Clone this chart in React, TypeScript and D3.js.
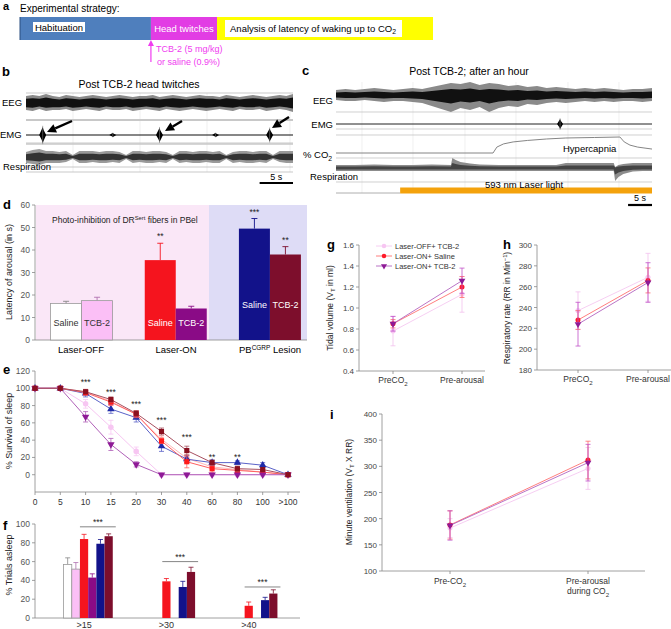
import React from 'react';
import * as d3 from 'd3';

const FONT = "'Liberation Sans', Arial, Helvetica, sans-serif";

// ---------- Panel a ----------
const aPhases = ['Habituation', 'Head twitches', 'Analysis'];
const aPhaseSpan = [31.7, 16.0, 52.3]; // % of protocol

// ---------- Panel b traces (0-40 s, 1 s steps) ----------
const bTime = [0,1,2,3,4,5,6,7,8,9,10,11,12,13,14,15,16,17,18,19,20,21,22,23,24,25,26,27,28,29,30,31,32,33,34,35,36,37,38,39,40];
const eegBHi = [7,8,7,9,7,6,8,7,6,7,8,7,6,7,8,7,6,7,7,8,6,7,8,7,6,7,8,7,7,6,8,7,6,7,8,7,6,7,8,7,9];
const eegBLo = [-7,-8,-6,-8,-7,-7,-6,-8,-7,-6,-7,-8,-6,-7,-7,-6,-8,-7,-6,-7,-8,-6,-7,-8,-7,-6,-7,-8,-7,-6,-7,-8,-6,-7,-7,-6,-8,-7,-6,-7,-9];
const respBHi = [5,7,8,6,6,5,6,2,6,6,6,5,6,6,5,2,6,6,5,6,6,5,2,6,6,5,6,6,5,6,2,5,6,6,5,6,6,2,6,6,6];
const respBLo = [-6,-7,-8,-6,-6,-6,-5,-2,-6,-6,-5,-6,-6,-5,-6,-2,-6,-5,-6,-6,-5,-6,-2,-6,-5,-6,-6,-5,-6,-6,-2,-6,-5,-6,-6,-5,-6,-2,-5,-6,-6];
const emgBBurstT = [2.5, 13, 20, 28.4, 36.5];
const emgBBurstAmp = [8, 2, 7, 2, 6.5];

// ---------- Panel c traces (0-66 s) ----------
const cTime = [0,2,4,6,8,10,12,14,16,18,20,22,24,26,28,30,32,34,36,38,40,42,44,46,48,50,52,54,56,58,60,62,64,66];
const eegCHi = [5,6,5,6,7,6,5,6,7,6,8,10,12,11,13,10,12,11,9,10,8,9,7,8,7,6,7,6,7,6,5,6,6,7];
const eegCLo = [-5,-6,-6,-5,-6,-7,-6,-6,-7,-8,-11,-14,-17,-13,-15,-12,-17,-13,-11,-12,-9,-10,-8,-7,-8,-7,-6,-7,-6,-7,-6,-6,-7,-6];
const emgCBurstT = [46.8];
const emgCBurstAmp = [5];
const co2T = [0, 32.8, 33.6, 35, 37, 40, 44, 48, 54, 59.3, 60.2, 61.4, 63, 66];
const co2V = [0, 0, 2.4, 3.7, 4.5, 5.1, 5.7, 6.1, 6.3, 6.5, 4.5, 3.2, 2.4, 1.6];
const respCT = [0, 4, 8, 12, 16, 20, 24, 24.3, 25, 26, 28, 30, 34, 38, 42, 46, 47, 48, 52, 56, 58, 58.3, 59, 60, 62, 64, 66];
const respCHi = [-3,-3,-3.5,-3,-3,-3.5,-3,-10,-8,-6,-4.5,-3.5,-3,-3,-3,-3,-4,-5,-5,-5,-5,-1,-3,-4,-5,-5,-5];
const respCLo = [3,3,3,3,3,3,3,3,3,3,3,3,3,3,3,3,3,3,3,3,3,13,9,6,3.5,3,3];
const laserStart = 13.4; // s

// ---------- Panel d ----------
const dGroups = ['Laser-OFF', 'Laser-ON', 'PB Lesion'];
const dSeries = ['Saline', 'TCB-2'];
const dMeans = [[16.2, 17.5], [35.5, 14.0], [49.5, 38.0]];
const dErr = [[1.0, 1.5], [7.5, 1.0], [4.5, 3.5]];
const dStars = [['', ''], ['**', ''], ['***', '**']];
const dYTicks = [0, 10, 20, 30, 40, 50, 60];

// ---------- Panel e ----------
const eCats = ['0', '5', '10', '15', '20', '30', '40', '60', '80', '100', '>100'];
const eOffSal = [100, 100, 96, 85, 70, 41, 19, 9, 6, 3, 0];
const eOffSalErr = [0, 0, 3, 4, 4, 4, 5, 3, 2, 2, 0];
const eOffTcb = [100, 100, 82, 55, 27, 0, 0, 0, 0, 0, 0];
const eOffTcbErr = [0, 0, 5, 8, 5, 0, 0, 0, 0, 0, 0];
const eOnSal = [100, 100, 95, 84, 70, 39, 15, 7, 5, 3, 0];
const eOnSalErr = [0, 0, 3, 4, 4, 3, 7, 4, 3, 2, 0];
const eOnTcb = [100, 100, 67, 35, 12, 0, 0, 0, 0, 0, 0];
const eOnTcbErr = [0, 0, 6, 7, 3, 0, 0, 0, 0, 0, 0];
const eLesSal = [100, 100, 94, 76, 66, 33, 18, 14, 14, 11, 0];
const eLesSalErr = [0, 0, 4, 5, 5, 6, 4, 3, 2, 3, 0];
const eLesTcb = [100, 100, 96, 87, 71, 50, 28, 14, 7, 6, 0];
const eLesTcbErr = [0, 0, 2, 3, 3, 4, 5, 3, 3, 2, 0];
const eStars = ['', '', '***', '***', '***', '***', '***', '**', '**', '', ''];
const eStarLevel = [0, 0, 107, 96, 82, 63, 44, 20, 20, 0, 0];
const eYTicks = [0, 20, 40, 60, 80, 100, 120];

// ---------- Panel f ----------
const fCats = ['>15', '>30', '>40'];
const fSeries = ['OFF-Saline', 'OFF-TCB', 'ON-Saline', 'ON-TCB', 'Les-Saline', 'Les-TCB'];
const fVals = [[57, 52, 84, 43, 79, 87], [0, 0, 39, 0, 33, 49], [0, 0, 13, 0, 19, 26]];
const fErr = [[7, 7, 5, 4, 4.5, 2.5], [0, 0, 3, 0, 6, 5], [0, 0, 4, 0, 3, 4]];
const fSigLevel = [97, 60, 33];
const fYTicks = [0, 20, 40, 60, 80, 100];

// ---------- Panels g, h, i ----------
const ghCats = ['Pre', 'Post'];
const gOff = [0.78, 1.13]; const gOffErr = [0.14, 0.17];
const gSal = [0.85, 1.20]; const gSalErr = [0.04, 0.10];
const gTcb = [0.85, 1.26]; const gTcbErr = [0.07, 0.12];
const gYTicks = [0.4, 0.6, 0.8, 1.0, 1.2, 1.4, 1.6];
const hOff = [237, 269]; const hOffErr = [18, 23];
const hSal = [228, 266]; const hSalErr = [9, 12];
const hTcb = [224, 264]; const hTcbErr = [21, 19];
const hYTicks = [180, 200, 220, 240, 260, 280, 300];
const iOff = [182, 296]; const iOffErr = [18, 40];
const iSal = [188, 312]; const iSalErr = [27, 36];
const iTcb = [187, 307]; const iTcbErr = [28, 35];
const iYTicks = [100, 150, 200, 250, 300, 350, 400];
const legendNames = ['Laser-OFF+ TCB-2', 'Laser-ON+ Saline', 'Laser-ON+ TCB-2'];

// ---------- helpers ----------
const sym = (type: any, size: number) => d3.symbol().type(type).size(size)() as string;

function Sub({ t, after = '', dy = 2.5 }: { t: string; after?: string; dy?: number }) {
  return (
    <>
      <tspan dy={dy} fontSize="0.72em">{t}</tspan>
      {after ? <tspan dy={-dy}>{after}</tspan> : null}
    </>
  );
}
function Sup({ t, after = '', dy = -4 }: { t: string; after?: string; dy?: number }) {
  return (
    <>
      <tspan dy={dy} fontSize="0.68em">{t}</tspan>
      {after ? <tspan dy={-dy}>{after}</tspan> : null}
    </>
  );
}

function YAxis({ scale, ticks, x, fmt, fs = 8.5, color = '#555' }: any) {
  const [r0, r1] = scale.range();
  return (
    <g>
      <line x1={x} x2={x} y1={r0} y2={r1} stroke="#888" strokeWidth={0.8} />
      {ticks.map((t: number) => (
        <g key={t}>
          <line x1={x - 3} x2={x} y1={scale(t)} y2={scale(t)} stroke="#888" strokeWidth={0.8} />
          <text x={x - 5} y={scale(t) + 3} textAnchor="end" fontSize={fs} fill={color}>{fmt ? fmt(t) : t}</text>
        </g>
      ))}
    </g>
  );
}

function ErrBar({ x, y1, y2, cap = 5, color, w = 0.8 }: any) {
  return (
    <g stroke={color} strokeWidth={w}>
      <line x1={x} x2={x} y1={y1} y2={y2} />
      <line x1={x - cap / 2} x2={x + cap / 2} y1={y1} y2={y1} />
      <line x1={x - cap / 2} x2={x + cap / 2} y1={y2} y2={y2} />
    </g>
  );
}

// ---------- Panel A ----------
function PanelA() {
  const x = d3.scaleLinear().domain([0, 100]).range([20, 433]);
  const cum = [0, aPhaseSpan[0], aPhaseSpan[0] + aPhaseSpan[1], 100];
  const fills = ['#4f7fbd', '#e23de4', '#ffff00'];
  return (
    <g>
      <text x={3} y={10} fontSize={11} fontWeight="bold">a</text>
      <text x={20} y={12} fontSize={10}>Experimental strategy:</text>
      {aPhases.map((p, i) => (
        <rect key={p} x={x(cum[i])} y={17} width={x(cum[i + 1]) - x(cum[i])} height={23} fill={fills[i]} />
      ))}
      <line x1={x(0)} x2={x(0)} y1={17} y2={40} stroke="#2a4f80" strokeWidth={1} />
      <rect x={33} y={22} width={52} height={10} fill="#fff" />
      <text x={59} y={30.5} fontSize={9.5} textAnchor="middle">Habituation</text>
      <text x={(x(cum[1]) + x(cum[2])) / 2} y={32} fontSize={9.5} textAnchor="middle" fill="#fff">Head twitches</text>
      <rect x={225} y={20} width={177} height={17} fill="#fff" />
      <text x={313} y={31.5} fontSize={9.5} textAnchor="middle">Analysis of latency of waking up to CO<Sub t="2" /></text>
      <line x1={x(cum[1])} x2={x(cum[1])} y1={62} y2={44} stroke="#f03cf0" strokeWidth={1.2} />
      <path d={`M${x(cum[1])},40 l-3,6 l6,0 z`} fill="#f03cf0" />
      <text x={156} y={52} fontSize={9} fill="#f03cf0">TCB-2 (5 mg/kg)</text>
      <text x={157} y={65} fontSize={9} fill="#f03cf0">or saline (0.9%)</text>
    </g>
  );
}

function Arrow({ x1, y1, x2, y2 }: any) {
  const ang = Math.atan2(y2 - y1, x2 - x1);
  const L = 9, W = 4.5;
  const bx = x2 - L * Math.cos(ang), by = y2 - L * Math.sin(ang);
  const px = -Math.sin(ang) * W, py = Math.cos(ang) * W;
  return (
    <g>
      <line x1={x1} y1={y1} x2={bx} y2={by} stroke="#000" strokeWidth={2.4} />
      <path d={`M${x2},${y2} L${bx + px},${by + py} L${bx - px},${by - py} Z`} fill="#000" />
    </g>
  );
}

function Burst({ xs, ys, t, amp, w }: any) {
  const x = xs(t);
  return (
    <g>
      <path d={`M${x - w},${ys(0)} L${x - w * 0.3},${ys(amp * 0.7)} L${x},${ys(amp)} L${x + w * 0.3},${ys(amp * 0.6)} L${x + w},${ys(0)} L${x + w * 0.3},${ys(-amp * 0.7)} L${x},${ys(-amp)} L${x - w * 0.3},${ys(-amp * 0.6)} Z`} fill="#000" />
      <line x1={x} x2={x} y1={ys(amp * 1.15)} y2={ys(-amp * 1.15)} stroke="#777" strokeWidth={0.6} />
    </g>
  );
}

function bandPath(xs: any, ys: any, t: number[], hi: number[], lo: number[], f = 1) {
  const a = d3.area<number>()
    .x((_, i) => xs(t[i]))
    .y0((_, i) => ys(lo[i] * f))
    .y1((_, i) => ys(hi[i] * f));
  return a(t) as string;
}

// ---------- Panel B ----------
function PanelB() {
  const xs = d3.scaleLinear().domain([0, 40]).range([26, 293]);
  const yEEG = d3.scaleLinear().domain([-10, 10]).range([113, 93]);
  const yEMG = d3.scaleLinear().domain([-10, 10]).range([145, 125]);
  const yResp = d3.scaleLinear().domain([-10, 10]).range([167, 147]);
  const hLines = [93, 143, 167, 172];
  const vLines = [73, 140, 207, 290];
  return (
    <g>
      <text x={2} y={76} fontSize={13} fontWeight="bold">b</text>
      <text x={139} y={88} fontSize={10.5} textAnchor="middle">Post TCB-2 head twitches</text>
      {vLines.map((v) => <line key={v} x1={v} x2={v} y1={93} y2={172} stroke="#e4e4e4" strokeWidth={0.6} />)}
      {hLines.map((h) => <line key={h} x1={26} x2={293} y1={h} y2={h} stroke="#bbb" strokeWidth={0.8} />)}
      <line x1={26} x2={293} y1={120} y2={120} stroke="#c8c8c8" strokeWidth={2} />
      <line x1={26} x2={293} y1={144} y2={144} stroke="#c8c8c8" strokeWidth={1.5} />
      <path d={bandPath(xs, yEEG, bTime, eegBHi, eegBLo)} fill="#8a8a8a" />
      <path d={bandPath(xs, yEEG, bTime, eegBHi, eegBLo, 0.6)} fill="#111" />
      <line x1={26} x2={293} y1={yEMG(0)} y2={yEMG(0)} stroke="#111" strokeWidth={1.2} />
      {emgBBurstT.map((t, i) => <Burst key={t} xs={xs} ys={yEMG} t={t} amp={emgBBurstAmp[i]} w={3.5} />)}
      <path d={bandPath(xs, yResp, bTime, respBHi, respBLo)} fill="#9a9a9a" />
      <path d={bandPath(xs, yResp, bTime, respBHi, respBLo, 0.55)} fill="#333" />
      <text x={2} y={106} fontSize={9.5}>EEG</text>
      <text x={0} y={138} fontSize={9.5}>EMG</text>
      <text x={3} y={170} fontSize={9.5}>Respiration</text>
      <Arrow x1={72} y1={121} x2={47} y2={132} />
      <Arrow x1={182} y1={121} x2={165} y2={131} />
      <Arrow x1={289} y1={117} x2={272} y2={128} />
      <line x1={xs(35)} x2={xs(40)} y1={183} y2={183} stroke="#000" strokeWidth={2.2} />
      <text x={(xs(35) + xs(40)) / 2} y={180} fontSize={9} textAnchor="middle">5 s</text>
    </g>
  );
}

// ---------- Panel C ----------
function PanelC() {
  const xs = d3.scaleLinear().domain([0, 66]).range([336, 652]);
  const yEEG = d3.scaleLinear().domain([-10, 10]).range([105, 85]);
  const yEMG = d3.scaleLinear().domain([-10, 10]).range([134, 114]);
  const yCO2 = d3.scaleLinear().domain([0, 6.5]).range([153, 137]);
  const yResp = d3.scaleLinear().domain([-10, 10]).range([158, 178]);
  const hLines = [112, 129, 135, 158, 182];
  const vLines = [362, 413, 465, 516, 568, 619];
  const co2Line = d3.line<number>().x((_, i) => xs(co2T[i])).y((d) => yCO2(d))(co2V) as string;
  return (
    <g>
      <text x={302} y={75} fontSize={13} fontWeight="bold">c</text>
      <text x={469} y={75} fontSize={10.5} textAnchor="middle">Post TCB-2; after an hour</text>
      {vLines.map((v) => <line key={v} x1={v} x2={v} y1={82} y2={193} stroke="#e6e6e6" strokeWidth={0.6} />)}
      {hLines.map((h) => <line key={h} x1={336} x2={652} y1={h} y2={h} stroke="#bbb" strokeWidth={0.7} />)}
      <path d={bandPath(xs, yEEG, cTime, eegCHi, eegCLo)} fill="#8a8a8a" />
      <path d={bandPath(xs, yEEG, cTime, eegCHi, eegCLo, 0.5)} fill="#111" />
      <line x1={336} x2={652} y1={yEMG(0)} y2={yEMG(0)} stroke="#222" strokeWidth={1} />
      {emgCBurstT.map((t, i) => <Burst key={t} xs={xs} ys={yEMG} t={t} amp={emgCBurstAmp[i]} w={3} />)}
      <path d={co2Line} fill="none" stroke="#777" strokeWidth={0.9} />
      <path d={bandPath(xs, yResp, respCT, respCHi, respCLo)} fill="#8c8c8c" />
      <path d={bandPath(xs, yResp, respCT, respCHi, respCLo, 0.5)} fill="#444" />
      <line x1={xs(0)} x2={xs(laserStart)} y1={193} y2={193} stroke="#999" strokeWidth={0.8} />
      <rect x={xs(laserStart)} y={187.5} width={xs(66) - xs(laserStart)} height={6} fill="#f4a20c" />
      <text x={333} y={104} fontSize={9.5} textAnchor="end">EEG</text>
      <text x={333} y={128} fontSize={9.5} textAnchor="end">EMG</text>
      <text x={303} y={158} fontSize={9.5}>% CO<Sub t="2" /></text>
      <text x={310} y={180} fontSize={9.5}>Respiration</text>
      <text x={563} y={152} fontSize={9.5}>Hypercapnia</text>
      <text x={485} y={188} fontSize={9.5}>593 nm Laser light</text>
      <line x1={xs(61)} x2={xs(66)} y1={205} y2={205} stroke="#000" strokeWidth={2.2} />
      <text x={(xs(61) + xs(66)) / 2} y={201} fontSize={9} textAnchor="middle">5 s</text>
    </g>
  );
}

// ---------- Panel D ----------
function PanelD() {
  const y = d3.scaleLinear().domain([0, 60]).range([340, 205]);
  const xg = d3.scaleBand().domain(dGroups).range([34.5, 317]);
  const xs = d3.scaleBand().domain(dSeries).range([-31, 31]);
  const fills = [['#ffffff', '#fbbff6'], ['#f5141e', '#8a0b86'], ['#12128a', '#7d0e2c']];
  const errC = [['#888', '#b070b0'], ['#f5141e', '#8a0b86'], ['#12128a', '#7d0e2c']];
  const labC = [['#333', '#333'], ['#fff', '#fff'], ['#fff', '#fff']];
  const labY = [326, 326, 308];
  return (
    <g>
      <text x={3} y={209} fontSize={13} fontWeight="bold">d</text>
      <rect x={36} y={205} width={173} height={135} fill="#fae7f7" />
      <rect x={209} y={205} width={98} height={135} fill="#dedcf6" />
      <YAxis scale={y} ticks={dYTicks} x={35} />
      <line x1={35} x2={307} y1={340} y2={340} stroke="#888" strokeWidth={0.8} />
      <text x={52} y={223} fontSize={8.5} fill="#222">Photo-inhibition of DR<Sup t="Sert" after=" fibers in PBel" dy={-3.5} /></text>
      {dGroups.map((g, gi) => {
        const cx = (xg(g) as number) + xg.bandwidth() / 2;
        return dSeries.map((s, si) => {
          const bx = cx + (xs(s) as number);
          const bw = xs.bandwidth();
          const v = dMeans[gi][si];
          const e = dErr[gi][si];
          const mid = bx + bw / 2;
          return (
            <g key={g + s}>
              <line x1={mid} x2={mid} y1={y(v)} y2={y(v + e)} stroke={errC[gi][si]} strokeWidth={0.9} />
              <line x1={mid - 3} x2={mid + 3} y1={y(v + e)} y2={y(v + e)} stroke={errC[gi][si]} strokeWidth={0.9} />
              <rect x={bx} y={y(v)} width={bw} height={y(0) - y(v)} fill={fills[gi][si]} stroke={gi === 0 ? '#999' : 'none'} strokeWidth={0.8} />
              <text x={mid} y={labY[gi]} fontSize={9} textAnchor="middle" fill={labC[gi][si]}>{s}</text>
              {dStars[gi][si] && <text x={mid} y={y(v + e) - 4} fontSize={8.5} textAnchor="middle" fill="#222">{dStars[gi][si]}</text>}
            </g>
          );
        });
      })}
      <text x={81} y={353} fontSize={9.5} textAnchor="middle">Laser-OFF</text>
      <text x={176} y={353} fontSize={9.5} textAnchor="middle">Laser-ON</text>
      <text x={270} y={353} fontSize={9.5} textAnchor="middle">PB<Sup t="CGRP" after=" Lesion" dy={-3.5} /></text>
      <text transform="translate(12,272) rotate(-90)" fontSize={9} textAnchor="middle" fill="#222">Latency of arousal (in s)</text>
    </g>
  );
}

// ---------- Panel E ----------
function PanelE() {
  const y = d3.scaleLinear().domain([-20, 120]).range([492, 371]);
  const x = d3.scalePoint().domain(eCats).range([35, 288]);
  const series = [
    { v: eOffSal, e: eOffSalErr, c: '#ffa8a8', lc: '#ffb8b8', s: d3.symbolCircle, r: 0 },
    { v: eOffTcb, e: eOffTcbErr, c: '#f7c6f2', lc: '#f7c6f2', s: d3.symbolCircle, r: 0 },
    { v: eLesSal, e: eLesSalErr, c: '#1f2aa8', lc: '#5a62c8', s: d3.symbolTriangle, r: 0 },
    { v: eOnSal, e: eOnSalErr, c: '#ff1a1a', lc: '#ff6060', s: d3.symbolSquare, r: 0 },
    { v: eOnTcb, e: eOnTcbErr, c: '#8e1a96', lc: '#b060b8', s: d3.symbolTriangle, r: 180 },
    { v: eLesTcb, e: eLesTcbErr, c: '#8a1020', lc: '#a85060', s: d3.symbolSquare, r: 0 },
  ];
  return (
    <g>
      <text x={3} y={374} fontSize={13} fontWeight="bold">e</text>
      <line x1={35} x2={35} y1={371} y2={492} stroke="#888" strokeWidth={0.8} />
      {eYTicks.map((t) => (
        <g key={t}>
          <line x1={32} x2={35} y1={y(t)} y2={y(t)} stroke="#888" strokeWidth={0.8} />
          <text x={30} y={y(t) + 3} fontSize={8.5} textAnchor="end" fill="#555">{t}</text>
        </g>
      ))}
      <line x1={35} x2={300} y1={492} y2={492} stroke="#888" strokeWidth={0.8} />
      {eCats.map((c) => (
        <g key={c}>
          <line x1={x(c)} x2={x(c)} y1={492} y2={495} stroke="#888" strokeWidth={0.8} />
          <text x={x(c)} y={505} fontSize={8.5} textAnchor="middle" fill="#333">{c}</text>
        </g>
      ))}
      {series.map((s, si) => (
        <g key={si}>
          <path d={d3.line<number>().x((_, i) => x(eCats[i]) as number).y((d) => y(d))(s.v) as string} fill="none" stroke={s.lc} strokeWidth={1} />
          {s.v.map((v, i) => s.e[i] > 0 && (
            <ErrBar key={i} x={x(eCats[i])} y1={y(v + s.e[i])} y2={y(v - s.e[i])} cap={5} color={s.lc} />
          ))}
          {s.v.map((v, i) => (
            <path key={'m' + i} d={sym(s.s, s.s === d3.symbolSquare ? 26 : 24)} transform={`translate(${x(eCats[i])},${y(v)}) rotate(${s.r})`} fill={s.c} />
          ))}
        </g>
      ))}
      {eStars.map((st, i) => st && (
        <text key={i} x={x(eCats[i])} y={y(eStarLevel[i]) + 3} fontSize={8.5} textAnchor="middle" fill="#222">{st}</text>
      ))}
      <text transform="translate(12,431) rotate(-90)" fontSize={9} textAnchor="middle" fill="#222">% Survival of sleep</text>
    </g>
  );
}

// ---------- Panel F ----------
function PanelF() {
  const y = d3.scaleLinear().domain([0, 100]).range([618, 524]);
  const xg = d3.scaleBand().domain(fCats).range([47, 294]);
  const xs = d3.scaleBand().domain(fSeries).range([-24.6, 24.6]);
  const fills = ['#ffffff', '#fbbff6', '#f5141e', '#8a0b86', '#12128a', '#7d0e2c'];
  const errC = ['#888', '#b070b0', '#f5141e', '#8a0b86', '#12128a', '#7d0e2c'];
  return (
    <g>
      <text x={3} y={530} fontSize={13} fontWeight="bold">f</text>
      <YAxis scale={y} ticks={fYTicks} x={35} />
      <line x1={35} x2={300} y1={618} y2={618} stroke="#888" strokeWidth={0.8} />
      {fCats.map((c, ci) => {
        const cx = (xg(c) as number) + xg.bandwidth() / 2;
        const lx1 = cx + (xs(fSeries[2]) as number);
        const lx2 = cx + (xs(fSeries[5]) as number) + xs.bandwidth() + 3;
        return (
          <g key={c}>
            {fSeries.map((s, si) => {
              const v = fVals[ci][si];
              if (v <= 0) return null;
              const bx = cx + (xs(s) as number);
              const bw = xs.bandwidth();
              const e = fErr[ci][si];
              const mid = bx + bw / 2;
              return (
                <g key={s}>
                  <line x1={mid} x2={mid} y1={y(v)} y2={y(v + e)} stroke={errC[si]} strokeWidth={0.8} />
                  <line x1={mid - 2.5} x2={mid + 2.5} y1={y(v + e)} y2={y(v + e)} stroke={errC[si]} strokeWidth={0.8} />
                  <rect x={bx} y={y(v)} width={bw} height={y(0) - y(v)} fill={fills[si]} stroke={si < 2 ? '#999' : 'none'} strokeWidth={0.8} />
                </g>
              );
            })}
            <line x1={lx1} x2={lx2} y1={y(fSigLevel[ci])} y2={y(fSigLevel[ci])} stroke="#666" strokeWidth={0.8} />
            <text x={(lx1 + lx2) / 2} y={y(fSigLevel[ci]) - 2} fontSize={8.5} textAnchor="middle" fill="#222">***</text>
            <text x={cx - 4} y={628} fontSize={9} textAnchor="middle" fill="#333">{c}</text>
          </g>
        );
      })}
      <text transform="translate(12,565) rotate(-90)" fontSize={9} textAnchor="middle" fill="#222">% Trials asleep</text>
    </g>
  );
}

// ---------- line panels g/h/i ----------
const lineStyles = [
  { c: '#f7c6f2', lc: '#f5c8f0', ec: '#f3c0ee', s: d3.symbolCircle, r: 0 },
  { c: '#ff1a2a', lc: '#ff7070', ec: '#ff6a6a', s: d3.symbolCircle, r: 0 },
  { c: '#8e1a96', lc: '#b264c0', ec: '#c050c8', s: d3.symbolTriangle, r: 180 },
];

function LinePanel({ y, x, vals, errs, ticks, fmt, axisX, axisEnd }: any) {
  const y0 = y.range()[0];
  return (
    <g>
      <YAxis scale={y} ticks={ticks} x={axisX} fmt={fmt} fs={8} color="#444" />
      <line x1={axisX} x2={axisEnd} y1={y0} y2={y0} stroke="#888" strokeWidth={0.8} />
      {ghCats.map((c) => <line key={c} x1={x(c)} x2={x(c)} y1={y0} y2={y0 + 3} stroke="#888" strokeWidth={0.8} />)}
      {vals.map((v: number[], si: number) => {
        const st = lineStyles[si];
        return (
          <g key={si}>
            <path d={d3.line<number>().x((_, i) => x(ghCats[i])).y((d) => y(d))(v) as string} fill="none" stroke={st.lc} strokeWidth={0.9} />
            {v.map((d, i) => <ErrBar key={i} x={x(ghCats[i])} y1={y(d + errs[si][i])} y2={y(d - errs[si][i])} cap={5} color={st.ec} w={0.8} />)}
            {v.map((d, i) => <path key={'m' + i} d={sym(st.s, 20)} transform={`translate(${x(ghCats[i])},${y(d)}) rotate(${st.r})`} fill={st.c} />)}
          </g>
        );
      })}
    </g>
  );
}

function PanelG() {
  const y = d3.scaleLinear().domain([0.4, 1.6]).range([371, 245]);
  const x = d3.scalePoint().domain(ghCats).range([393, 462]);
  return (
    <g>
      <text x={327} y={249} fontSize={13} fontWeight="bold">g</text>
      <LinePanel y={y} x={x} vals={[gOff, gSal, gTcb]} errs={[gOffErr, gSalErr, gTcbErr]} ticks={gYTicks} fmt={d3.format('.1f')} axisX={359} axisEnd={485} />
      {legendNames.map((n, i) => {
        const ly = 246 + i * 10;
        const st = lineStyles[i];
        return (
          <g key={n}>
            <line x1={376} x2={392} y1={ly} y2={ly} stroke={st.lc} strokeWidth={0.9} />
            <path d={sym(st.s, 16)} transform={`translate(384,${ly}) rotate(${st.r})`} fill={st.c} />
            <text x={395} y={ly + 2.7} fontSize={7.5} fill="#333">{n}</text>
          </g>
        );
      })}
      <text x={393} y={383} fontSize={8.5} textAnchor="middle" fill="#333">PreCO<Sub t="2" /></text>
      <text x={462} y={383} fontSize={8.5} textAnchor="middle" fill="#333">Pre-arousal</text>
      <text transform="translate(333,308) rotate(-90)" fontSize={8.5} textAnchor="middle" fill="#222">Tidal volume (V<Sub t="T" after=" in ml)" dy={2} /></text>
    </g>
  );
}

function PanelH() {
  const y = d3.scaleLinear().domain([180, 300]).range([370, 245]);
  const x = d3.scalePoint().domain(ghCats).range([578, 648]);
  return (
    <g>
      <text x={503} y={249} fontSize={13} fontWeight="bold">h</text>
      <LinePanel y={y} x={x} vals={[hOff, hSal, hTcb]} errs={[hOffErr, hSalErr, hTcbErr]} ticks={hYTicks} axisX={537} axisEnd={671} />
      <text x={578} y={382} fontSize={8.5} textAnchor="middle" fill="#333">PreCO<Sub t="2" /></text>
      <text x={648} y={382} fontSize={8.5} textAnchor="middle" fill="#333">Pre-arousal</text>
      <text transform="translate(510,308) rotate(-90)" fontSize={8.5} textAnchor="middle" fill="#222">Respiratory rate (RR in Min<Sup t="−1" after=")" dy={-3} /></text>
    </g>
  );
}

function PanelI() {
  const y = d3.scaleLinear().domain([100, 400]).range([571, 414]);
  const x = d3.scalePoint().domain(ghCats).range([450, 588]);
  return (
    <g>
      <text x={330} y={419} fontSize={13} fontWeight="bold">i</text>
      <LinePanel y={y} x={x} vals={[iOff, iSal, iTcb]} errs={[iOffErr, iSalErr, iTcbErr]} ticks={iYTicks} axisX={382} axisEnd={645} />
      <text x={450} y={584} fontSize={8.5} textAnchor="middle" fill="#333">Pre-CO<Sub t="2" /></text>
      <text x={588} y={584} fontSize={8.5} textAnchor="middle" fill="#333">Pre-arousal</text>
      <text x={588} y={594} fontSize={8.5} textAnchor="middle" fill="#333">during CO<Sub t="2" /></text>
      <text transform="translate(352,492) rotate(-90)" fontSize={8.5} textAnchor="middle" fill="#222">Minute ventilation (V<Sub t="T" after=" X RR)" dy={2} /></text>
    </g>
  );
}

export default function App() {
  return (
    <svg width={671} height={629} viewBox="0 0 671 629" style={{ position: 'absolute', left: 0, top: 0, background: '#fff' }} fontFamily={FONT}>
      <rect width={671} height={629} fill="#fff" />
      <PanelA />
      <PanelB />
      <PanelC />
      <PanelD />
      <PanelE />
      <PanelF />
      <PanelG />
      <PanelH />
      <PanelI />
    </svg>
  );
}
